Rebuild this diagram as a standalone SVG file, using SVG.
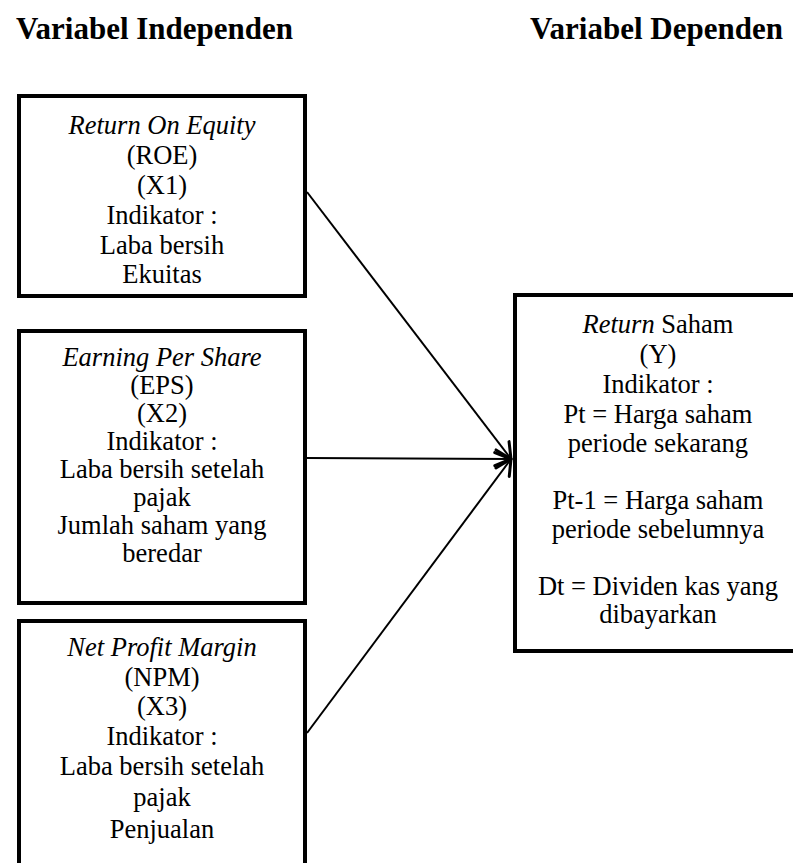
<svg xmlns="http://www.w3.org/2000/svg" width="793" height="863" viewBox="0 0 793 863">
<style>
.box{fill:#fff;stroke:#000;stroke-width:4}
.t{font-family:"Liberation Serif","Times New Roman",serif;font-size:26.5px;fill:#000;text-anchor:middle}
.h{font-family:"Liberation Serif","Times New Roman",serif;font-size:31px;font-weight:bold;fill:#000}
.i{font-style:italic}
.c{stroke:#000;stroke-width:2;fill:none}
</style>
<defs>
<marker id="arr" markerUnits="userSpaceOnUse" markerWidth="24" markerHeight="24" refX="18" refY="10" orient="auto" viewBox="0 0 24 20">
<path d="M3,1 L18,10 L3,19" fill="none" stroke="#000" stroke-width="3" stroke-linecap="round" stroke-linejoin="round"/>
</marker>
</defs>
<text class="h" x="16" y="39">Variabel Independen</text>
<text class="h" x="530" y="39">Variabel Dependen</text>
<g id="roe">
<rect class="box" x="19" y="96" width="286" height="200"/>
<text class="t" x="162" y="134"><tspan class="i">Return On Equity</tspan></text>
<text class="t" x="162" y="164">(ROE)</text>
<text class="t" x="162" y="194">(X1)</text>
<text class="t" x="162" y="224">Indikator :</text>
<text class="t" x="162" y="254">Laba bersih</text>
<text class="t" x="162" y="283">Ekuitas</text>
</g>
<g id="eps">
<rect class="box" x="19" y="331" width="286" height="272"/>
<text class="t" x="162" y="366"><tspan class="i">Earning Per Share</tspan></text>
<text class="t" x="162" y="394">(EPS)</text>
<text class="t" x="162" y="422">(X2)</text>
<text class="t" x="162" y="450">Indikator :</text>
<text class="t" x="162" y="478">Laba bersih setelah</text>
<text class="t" x="162" y="506">pajak</text>
<text class="t" x="162" y="534">Jumlah saham yang</text>
<text class="t" x="162" y="562">beredar</text>
</g>
<g id="npm">
<rect class="box" x="19" y="621" width="286" height="260"/>
<text class="t" x="162" y="656"><tspan class="i">Net Profit Margin</tspan></text>
<text class="t" x="162" y="686">(NPM)</text>
<text class="t" x="162" y="715">(X3)</text>
<text class="t" x="162" y="745">Indikator :</text>
<text class="t" x="162" y="775">Laba bersih setelah</text>
<text class="t" x="162" y="806">pajak</text>
<text class="t" x="162" y="838">Penjualan</text>
</g>
<g id="return-saham">
<rect class="box" x="515" y="295" width="300" height="356"/>
<text class="t" x="658" y="333"><tspan class="i">Return</tspan> Saham</text>
<text class="t" x="658" y="363">(Y)</text>
<text class="t" x="658" y="393">Indikator :</text>
<text class="t" x="658" y="423">Pt = Harga saham</text>
<text class="t" x="658" y="452">periode sekarang</text>
<text class="t" x="658" y="509">Pt-1 = Harga saham</text>
<text class="t" x="658" y="538">periode sebelumnya</text>
<text class="t" x="658" y="595">Dt = Dividen kas yang</text>
<text class="t" x="658" y="623">dibayarkan</text>
</g>
<g id="connectors">
<line class="c" x1="307" y1="192" x2="511" y2="459" marker-end="url(#arr)"/>
<line class="c" x1="307" y1="458" x2="511" y2="459" marker-end="url(#arr)"/>
<line class="c" x1="307" y1="733" x2="511" y2="459" marker-end="url(#arr)"/>
</g>
</svg>
